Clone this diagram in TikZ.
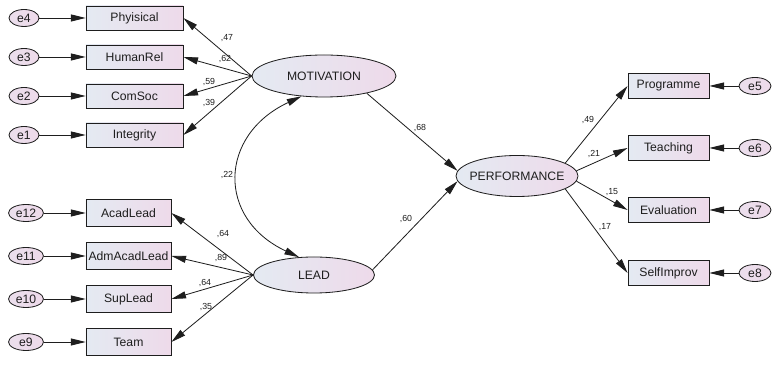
\documentclass[tikz,border=0pt]{standalone}
\usepackage{fontspec}
\setmainfont{Liberation Sans}
\usetikzlibrary{shapes.geometric,arrows.meta}

\definecolor{fillL}{RGB}{228,234,242}
\definecolor{fillR}{RGB}{238,218,234}
\definecolor{ink}{RGB}{30,30,30}
\newcommand{\lat}[1]{\makebox[0pt]{#1}}

\tikzset{
  obs/.style={draw=ink, line width=0.7pt, left color=fillL, right color=fillR, inner sep=0pt, font=\fontsize{10.4}{12}\selectfont, text=ink},
  obsl/.style={obs, minimum width=2.91cm, minimum height=0.72cm},
  obsb/.style={obs, minimum width=2.55cm, minimum height=0.81cm},
  obsr/.style={obs, minimum width=2.43cm, minimum height=0.75cm},
  latent/.style={ellipse, draw=ink, line width=0.7pt, left color=fillL, right color=fillR, inner sep=0pt, font=\fontsize{10.4}{12}\selectfont, text=ink},
  err/.style={ellipse, draw=ink, line width=0.7pt, left color=fillR!70!fillL, right color=fillR, inner sep=0pt, minimum height=0.51cm, font=\fontsize{10.4}{12}\selectfont, text=ink},
  coef/.style={font=\fontsize{7.5}{9}\selectfont, text=ink, inner sep=0pt},
  path/.style={->, draw=ink, line width=0.7pt},
  >={Triangle[length=12.5pt,width=6pt]}
}

\begin{document}
\begin{tikzpicture}[x=0.03cm, y=-0.03cm]
    \useasboundingbox (0,0) rectangle (779,377);

    % latent variables
    \node[latent, minimum width=4.32cm, minimum height=1.26cm] (mot) at (324,76) {\lat{MOTIVATION}};
    \node[latent, minimum width=3.63cm, minimum height=1.08cm] (lead) at (314,275) {\lat{LEAD}};
    \node[latent, minimum width=3.66cm, minimum height=1.23cm] (perf) at (517,176) {\lat{PERFORMANCE}};

    % motivation indicators
    \node[obsl] (phy) at (134.5,18) {Phyisical};
    \node[obsl] (hum) at (134.5,57) {HumanRel};
    \node[obsl] (com) at (134.5,96) {ComSoc};
    \node[obsl] (integ) at (134.5,135) {Integrity};

    \node[err, minimum width=0.9cm] (e4) at (24,18) {e4};
    \node[err, minimum width=0.9cm] (e3) at (24,57) {e3};
    \node[err, minimum width=0.9cm] (e2) at (24,96) {e2};
    \node[err, minimum width=0.9cm] (e1) at (24,135) {e1};

    % lead indicators
    \node[obsb] (acad) at (128.5,213) {AcadLead};
    \node[obsb] (adm) at (128.5,256) {AdmAcadLead};
    \node[obsb] (sup) at (128.5,299) {SupLead};
    \node[obsb] (team) at (128.5,342) {Team};

    \node[err, minimum width=1.05cm] (e12) at (26,213) {e12};
    \node[err, minimum width=1.05cm] (e11) at (26,256) {e11};
    \node[err, minimum width=1.05cm] (e10) at (26,299) {e10};
    \node[err, minimum width=1.05cm] (e9) at (26,342) {e9};

    % performance indicators
    \node[obsr] (prog) at (668.5,86) {Programme};
    \node[obsr] (teach) at (668.5,148) {Teaching};
    \node[obsr] (eval) at (668.5,210) {Evaluation};
    \node[obsr] (self) at (668.5,273) {SelfImprov};

    \node[err, minimum width=0.96cm] (e5) at (755,86) {e5};
    \node[err, minimum width=0.96cm] (e6) at (755,148) {e6};
    \node[err, minimum width=0.96cm] (e7) at (755,210) {e7};
    \node[err, minimum width=0.96cm] (e8) at (755,273) {e8};

    % error terms
    \draw[path] (e4) -- (phy);
    \draw[path] (e3) -- (hum);
    \draw[path] (e2) -- (com);
    \draw[path] (e1) -- (integ);
    \draw[path] (e12) -- (acad);
    \draw[path] (e11) -- (adm);
    \draw[path] (e10) -- (sup);
    \draw[path] (e9) -- (team);
    \draw[path] (e5) -- (prog);
    \draw[path] (e6) -- (teach);
    \draw[path] (e7) -- (eval);
    \draw[path] (e8) -- (self);

    % loadings
    \draw[path] (mot.west) -- (phy.east);
    \draw[path] (mot.west) -- (hum.east);
    \draw[path] (mot.west) -- (com.east);
    \draw[path] (mot.west) -- (integ.east);

    \draw[path] (lead.west) -- (acad.east);
    \draw[path] (lead.west) -- (adm.east);
    \draw[path] (lead.west) -- (sup.east);
    \draw[path] (lead.west) -- (team.east);

    \draw[path] (perf.15) -- (prog.west);
    \draw[path] (perf.5) -- (teach.west);
    \draw[path] (perf.-5) -- (eval.west);
    \draw[path] (perf.-15) -- (self.west);

    % structural paths
    \draw[path] (mot.-22) -- (perf.175);
    \draw[path] (lead.5) -- (perf.185);
    \draw[<->, draw=ink, line width=0.7pt] (mot.222) to[out=205, in=155, looseness=1.45] (lead.130);

    % coefficients
    \node[coef] (c47) at (227,38) {,47};
    \node[coef] (c62) at (225,59) {,62};
    \node[coef] (c59) at (209,82) {,59};
    \node[coef] (c39) at (209,103) {,39};
    \node[coef] (c64a) at (223,234) {,64};
    \node[coef] (c89) at (221,258) {,89};
    \node[coef] (c64b) at (205,283) {,64};
    \node[coef] (c35) at (206,307) {,35};
    \node[coef] (c68) at (420,128) {,68};
    \node[coef] (c22) at (227,175) {,22};
    \node[coef] (c60) at (406,219) {,60};
    \node[coef] (c49) at (588,120) {,49};
    \node[coef] (c21) at (594,154) {,21};
    \node[coef] (c15) at (612,192) {,15};
    \node[coef] (c17) at (605,227) {,17};
  \end{tikzpicture}
\end{document}
